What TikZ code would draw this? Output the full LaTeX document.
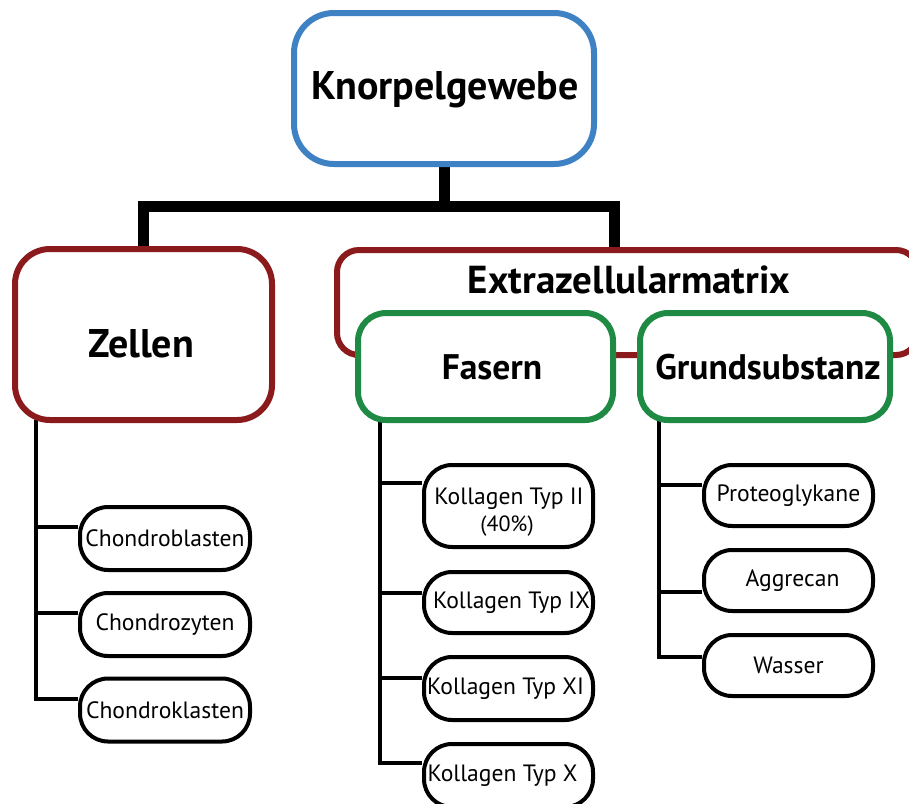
\documentclass[tikz,border=0pt]{standalone}
\usepackage{fontspec}
\setmainfont{PT Sans}
\usetikzlibrary{backgrounds}
\definecolor{kblue}{HTML}{3F82C4}
\definecolor{kred}{HTML}{8B1A1C}
\definecolor{kgreen}{HTML}{1F8A44}
\tikzset{
  bigbox/.style={draw, line width=6pt, fill=white, rectangle, inner sep=0pt},
  leafbox/.style={draw=black, line width=4pt, fill=white, rectangle, rounded corners=28pt,
    inner sep=0pt, align=center, font=\fontsize{23.6}{24}\selectfont},
  leaftext/.style={anchor=base, inner sep=0pt, font=\fontsize{23.6}{24}\selectfont},
  title/.style={anchor=base, inner sep=0pt, font=\bfseries\fontsize{40}{44}\selectfont},
  subtitle/.style={anchor=base, inner sep=0pt, font=\bfseries\fontsize{35.5}{38}\selectfont},
  bar/.style={draw=black, line width=11pt},
  branch/.style={draw=black, line width=4pt},
}
\begin{document}
\begin{tikzpicture}[x=1pt,y=-1pt]
\useasboundingbox (0,0) rectangle (909,803);
% main boxes
\node[bigbox, draw=kblue, minimum width=300pt, minimum height=151pt, rounded corners=40pt] (top) at (444,88.5) {};
\node[bigbox, draw=kred, minimum width=257pt, minimum height=171pt, rounded corners=35pt] (zellen) at (143.5,334.5) {};
\node[bigbox, draw=kred, minimum width=581pt, minimum height=105pt, rounded corners=22pt] (ezm) at (627.5,302.5) {};
\node[bigbox, draw=kgreen, minimum width=255pt, minimum height=107pt, rounded corners=28pt] (fasern) at (485.5,366.5) {};
\node[bigbox, draw=kgreen, minimum width=250pt, minimum height=107pt, rounded corners=28pt] (grund) at (765,366.5) {};
% titles
\node[title] (ttop) at (445,99) {Knorpelgewebe};
\node[title] (tzellen) at (141,357) {Zellen};
\node[title, font=\bfseries\fontsize{39}{42}\selectfont] (tezm) at (629,293) {Extrazellularmatrix};
\node[subtitle] (tfasern) at (492,379) {Fasern};
\node[subtitle] (tgrund) at (768,379) {Grundsubstanz};
% leaves
\node[leafbox, minimum width=170pt, minimum height=63pt] (cb) at (165,538.5) {Chondroblasten};
\node[leafbox, minimum width=170pt, minimum height=63pt] (cz) at (165,624.5) {Chondrozyten};
\node[leafbox, minimum width=170pt, minimum height=63pt] (ck) at (165,710) {Chondroklasten};
\node[leafbox, minimum width=169pt, minimum height=82pt] (k2) at (508.5,506) {};
\node[leaftext] (k2a) at (509,504) {Kollagen Typ II};
\node[leaftext, font=\fontsize{22}{24}\selectfont] (k2b) at (507,531) {(40\%)};
\node[leafbox, minimum width=169pt, minimum height=61pt] (k9) at (508.5,602.5) {\hspace*{6pt}Kollagen Typ IX};
\node[leafbox, minimum width=169pt, minimum height=63pt] (k11) at (508.5,688.5) {Kollagen Typ XI\hspace*{6pt}};
\node[leafbox, minimum width=169pt, minimum height=63pt] (k10) at (508.5,775.5) {Kollagen Typ X\hspace*{12pt}};
\node[leafbox, minimum width=169pt, minimum height=61pt] (pg) at (788.5,495.5) {Proteoglykane};
\node[leafbox, minimum width=169pt, minimum height=61pt] (ag) at (788.5,580.5) {\hspace*{8pt}Aggrecan};
\node[leafbox, minimum width=169pt, minimum height=61pt] (wa) at (788.5,665.5) {Wasser};
% trunk anchors
\coordinate (j) at (444,206);
\coordinate (ezmtop) at (614,250);
\coordinate (zt) at (36,420);
\coordinate (ft) at (380,420);
\coordinate (gt) at (659,420);
\begin{scope}[on background layer]
\fill[white] (0,0) rectangle (909,803);
\draw[bar] (top.south) -- (j);
\draw[bar] (zellen.north) |- (j);
\draw[bar] (ezmtop) |- (j);
\draw[branch] ([yshift=11.5pt]cb.west) -| (zt);
\draw[branch] ([yshift=11.5pt]cz.west) -| (zt);
\draw[branch] ([yshift=11pt]ck.west) -| (zt);
\draw[branch] ([yshift=23pt]k2.west) -| (ft);
\draw[branch] ([yshift=9.5pt]k9.west) -| (ft);
\draw[branch] ([yshift=10.5pt]k11.west) -| (ft);
\draw[branch] ([yshift=12.5pt]k10.west) -| (ft);
\draw[branch] ([yshift=10.5pt]pg.west) -| (gt);
\draw[branch] ([yshift=-11.5pt]ag.west) -| (gt);
\draw[branch] ([yshift=8.5pt]wa.west) -| (gt);
\end{scope}
\end{tikzpicture}
\end{document}
